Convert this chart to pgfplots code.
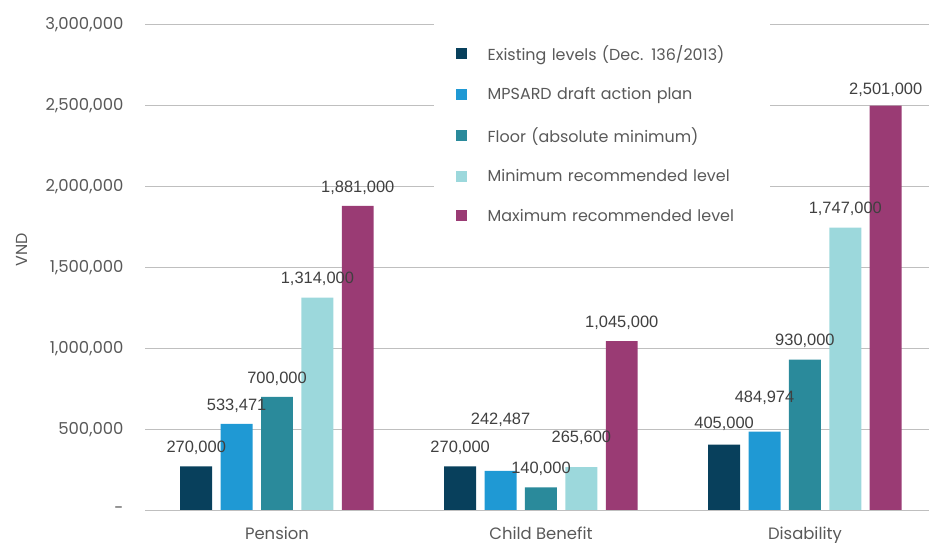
\documentclass[border=0pt]{standalone}
\usepackage{pgfplots}
\usepackage{pgfplotstable}
\pgfplotsset{compat=1.18}
\usepackage{fontspec}
\setmainfont{Poppins}
\newfontfamily\labfont{Liberation Sans}
\definecolor{cA}{HTML}{08405C}
\definecolor{cB}{HTML}{1F99D4}
\definecolor{cC}{HTML}{2A8A9B}
\definecolor{cD}{HTML}{9CD8DC}
\definecolor{cE}{HTML}{9A3B74}
\definecolor{textgray}{HTML}{595959}
\definecolor{labgray}{HTML}{404040}
\definecolor{gridgray}{HTML}{BFBFBF}
% x value dy(label offset in bp)
\pgfplotstableread{
x y dy
0 270000 8
1 270000 8
2 405000 10
}\tA
\pgfplotstableread{
x y dy
0 533471 8
1 242487 41
2 484974 23
}\tB
\pgfplotstableread{
x y dy
0 700000 8
1 140000 8
2 930000 9
}\tC
\pgfplotstableread{
x y dy
0 1314000 8
1 265600 19
2 1747000 8
}\tD
\pgfplotstableread{
x y dy
0 1881000 8
1 1045000 8
2 2501000 6
}\tE
\begin{document}
\begin{tikzpicture}
\path[use as bounding box] (0,0) rectangle (929bp,543bp);
\begin{axis}[
  at={(145bp,33bp)}, anchor=south west,
  scale only axis, width=784bp, height=485bp,
  xmin=-0.5, xmax=2.47, ymin=0, ymax=3000000,
  ytick={0,500000,1000000,1500000,2000000,2500000,3000000},
  yticklabels={-,{500,000},{1,000,000},{1,500,000},{2,000,000},{2,500,000},{3,000,000}},
  scaled y ticks=false,
  xtick={0,1,2}, xticklabels={Pension, Child Benefit, Disability},
  ymajorgrids, grid style={draw=gridgray, line width=1bp},
  axis line style={draw=none}, major tick length=0pt,
  tick label style={font=\fontsize{16.5}{19}\selectfont, text=textgray},
  yticklabel style={xshift=-18bp},
  xticklabel style={yshift=-13bp},
  ylabel={VND},
  ylabel style={at={(axis description cs:-0.157,0.536)}, anchor=center, font=\fontsize{16}{19}\selectfont, text=textgray},
  ybar, bar width=0.121,
  visualization depends on={\thisrow{dy}\as\dy},
  nodes near coords={\pgfmathprintnumber{\pgfplotspointmeta}},
  nodes near coords style={font=\labfont\fontsize{16.5}{19}\selectfont, text=labgray, yshift=\dy bp},
  /pgf/number format/fixed,
  /pgf/number format/precision=0,
  /pgf/number format/1000 sep={,},
  /pgf/number format/assume math mode=true,
  legend style={at={(axis description cs:0.368,1.004)}, anchor=north west, draw=none, fill=white,
    font=\fontsize{16}{19}\selectfont, text=textgray, row sep=22bp, inner xsep=22bp, inner ysep=20bp,
    /tikz/every odd column/.append style={column sep=19bp},
    /tikz/every even column/.append style={text width=258bp}},
  legend cell align=left,
  legend image code/.code={\fill[#1] (2bp,-5bp) rectangle (13bp,6bp);},
]
\addplot[fill=cA, draw=none, bar shift=-0.306] table[x=x,y=y] {\tA};
\addplot[fill=cB, draw=none, bar shift=-0.153] table[x=x,y=y] {\tB};
\addplot[fill=cC, draw=none, bar shift=0] table[x=x,y=y] {\tC};
\addplot[fill=cD, draw=none, bar shift=0.153] table[x=x,y=y] {\tD};
\addplot[fill=cE, draw=none, bar shift=0.306] table[x=x,y=y] {\tE};
\legend{Existing levels (Dec. 136/2013), MPSARD draft action plan, Floor (absolute minimum), Minimum recommended level, Maximum recommended level}
\end{axis}
\end{tikzpicture}
\end{document}
